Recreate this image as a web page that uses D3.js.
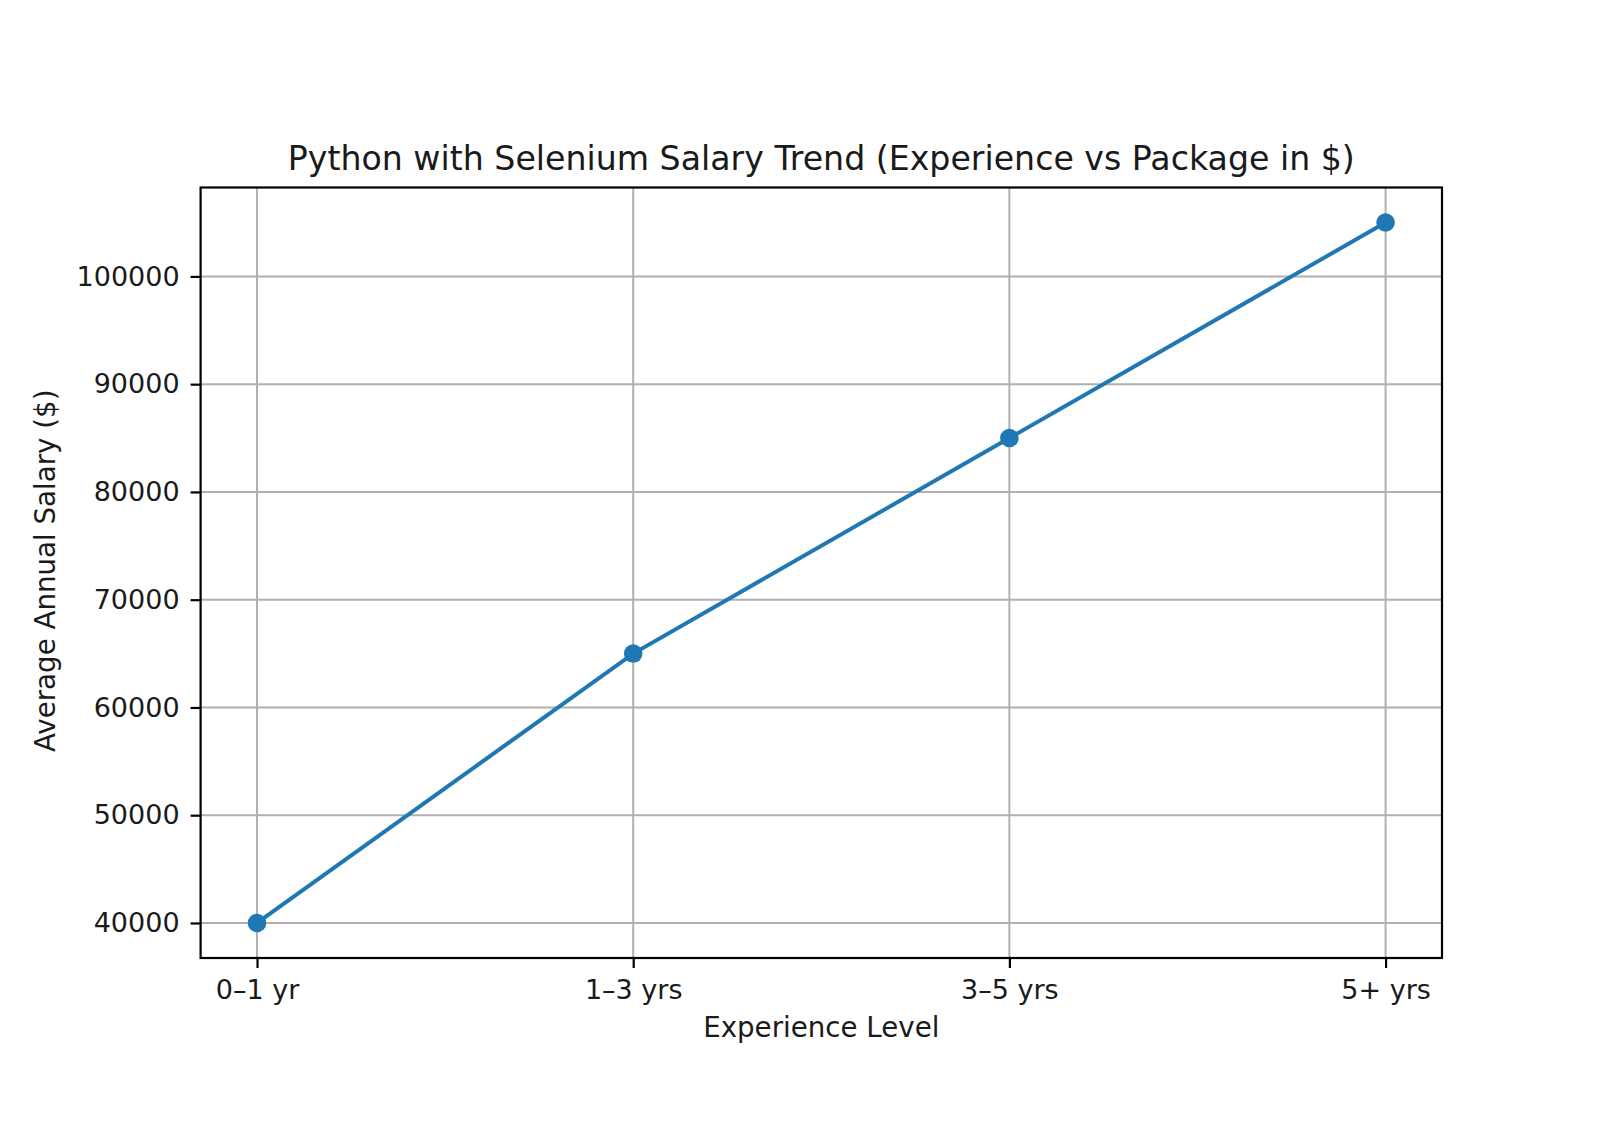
<!DOCTYPE html>
<html><head><meta charset="utf-8">
<script src="https://cdn.jsdelivr.net/npm/d3@7"></script>
<style>body{margin:0;background:#fff}svg{display:block}text{font-family:"DejaVu Sans",sans-serif;fill:#1a1a1a}</style>
</head><body><svg id="c" width="1600" height="1128"></svg>
<script>
const categories = ["0–1 yr", "1–3 yrs", "3–5 yrs", "5+ yrs"];
const salaries = [40000, 65000, 85000, 105000];
const yTicks = [40000, 50000, 60000, 70000, 80000, 90000, 100000];
const titleText = "Python with Selenium Salary Trend (Experience vs Package in $)";
const xLabel = "Experience Level";
const yLabel = "Average Annual Salary ($)";

const svg = d3.select("#c");
const L = 200.6, R = 1442, T = 187.5, B = 958;
const pad = (d3.max(salaries) - d3.min(salaries)) * 0.05;
const x = d3.scaleLinear().domain([-0.15, categories.length - 1 + 0.15]).range([L, R]);
const y = d3.scaleLinear().domain([d3.min(salaries) - pad, d3.max(salaries) + pad]).range([B, T]);

const g = svg.append("g");
g.selectAll(".gx").data(categories).join("line")
  .attr("x1", (d, i) => x(i)).attr("x2", (d, i) => x(i)).attr("y1", T).attr("y2", B)
  .attr("stroke", "#b0b0b0").attr("stroke-width", 2);
g.selectAll(".gy").data(yTicks).join("line")
  .attr("x1", L).attr("x2", R).attr("y1", d => y(d)).attr("y2", d => y(d))
  .attr("stroke", "#b0b0b0").attr("stroke-width", 2);

const xAxis = d3.axisBottom(x).tickValues(d3.range(categories.length)).tickFormat(i => categories[i]).tickSize(10).tickPadding(12);
const yAxis = d3.axisLeft(y).tickValues(yTicks).tickFormat(d3.format("d")).tickSize(10).tickPadding(11);
const gx = svg.append("g").attr("transform", `translate(0,${B})`).call(xAxis);
const gy = svg.append("g").attr("transform", `translate(${L},0)`).call(yAxis);
[gx, gy].forEach(a => {
  a.select(".domain").remove();
  a.selectAll(".tick line").attr("stroke", "#000").attr("stroke-width", 2.2);
  a.selectAll(".tick text").style("font-size", "27px").attr("fill", "#1a1a1a");
});

svg.append("path").datum(salaries)
  .attr("d", d3.line().x((d, i) => x(i)).y(d => y(d)))
  .attr("fill", "none").attr("stroke", "#1f77b4").attr("stroke-width", 4);
svg.selectAll(".pt").data(salaries).join("circle")
  .attr("cx", (d, i) => x(i)).attr("cy", d => y(d)).attr("r", 9.3).attr("fill", "#1f77b4");

svg.append("rect").attr("x", L).attr("y", T).attr("width", R - L).attr("height", B - T)
  .attr("fill", "none").attr("stroke", "#000").attr("stroke-width", 2.2);

svg.append("text").attr("x", (L + R) / 2).attr("y", 170).attr("text-anchor", "middle")
  .style("font-size", "33.2px").text(titleText);
svg.append("text").attr("x", (L + R) / 2).attr("y", 1037).attr("text-anchor", "middle")
  .style("font-size", "27.7px").text(xLabel);
svg.append("text").attr("transform", `translate(55,${(T + B) / 2 - 2}) rotate(-90)`).attr("text-anchor", "middle")
  .style("font-size", "27.7px").text(yLabel);
</script></body></html>
